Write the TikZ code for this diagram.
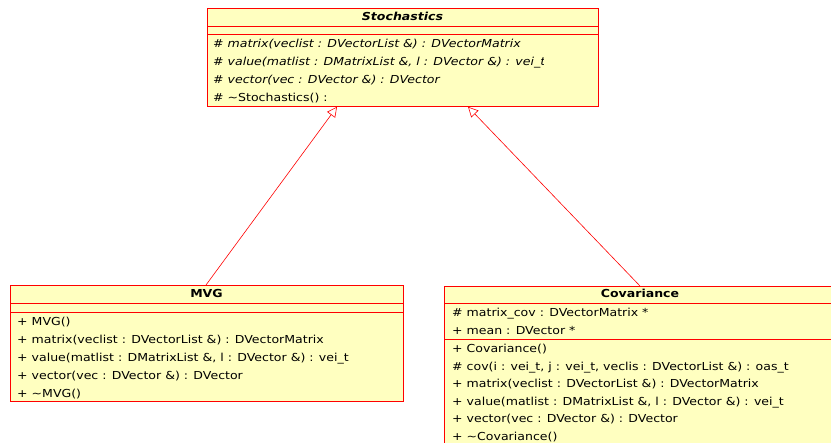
\documentclass[tikz,border=0pt]{standalone}
\usepackage{fontspec}
\setmainfont{DejaVu Sans}
\newfontfamily\umlfont[FakeStretch=1.14]{DejaVu Sans}
\usetikzlibrary{arrows.meta}
\definecolor{umlfill}{HTML}{FFFFC0}
\definecolor{umlline}{HTML}{FF0000}
\tikzset{
  classbox/.style={draw=umlline, fill=umlfill, line width=0.8pt, rectangle,
    inner sep=0pt, anchor=north west},
  sepline/.style={draw=umlline, line width=0.8pt},
  member/.style={anchor=base west, inner sep=0pt, font=\umlfont\fontsize{11}{13}\selectfont},
  absmember/.style={member, font=\umlfont\fontsize{11}{13}\selectfont\itshape},
  title/.style={anchor=base, inner sep=0pt, font=\umlfont\fontsize{11}{13}\selectfont\bfseries},
  realize/.style={draw=umlline, line width=0.6pt,
    -{Triangle[open, length=10pt, width=10pt]}},
}
\begin{document}
\begin{tikzpicture}[x=1pt, y=-1pt]
\clip (0,0) rectangle (831,443);
\fill[white] (0,0) rectangle (831,443);

% Stochastics (abstract)
\node[classbox, minimum width=391pt, minimum height=98pt] (stoch) at (207,8) {};
\draw[sepline] (207,26) -- (598,26);
\draw[sepline] (207,34) -- (598,34);
\node[title, font=\umlfont\fontsize{11}{13}\selectfont\bfseries\itshape] (stochT) at (402.5,21) {Stochastics};
\begin{scope}
  \clip (207,36) rectangle (521,52);
  \node[absmember] (s1) at (213,48) {\# matrix(veclist : DVectorList \&) : DVectorMatrix};
\end{scope}
\begin{scope}
  \clip (207,54) rectangle (543,70);
  \node[absmember] (s2) at (213,66) {\# value(matlist : DMatrixList \&, l : DVector \&) : vei\_t};
\end{scope}
\begin{scope}
  \clip (207,72) rectangle (442,88);
  \node[absmember] (s3) at (213,84) {\# vector(vec : DVector \&) : DVector};
\end{scope}
\node[member] (s4) at (213,102) {\# \textasciitilde Stochastics() :};

% MVG
\node[classbox, minimum width=393pt, minimum height=116pt] (mvg) at (10,285) {};
\draw[sepline] (10,303) -- (403,303);
\draw[sepline] (10,312) -- (403,312);
\node[title] (mvgT) at (206.5,298) {MVG};
\node[member] (m1) at (17,326) {+ MVG()};
\node[member] (m2) at (17,344) {+ matrix(veclist : DVectorList \&) : DVectorMatrix};
\node[member] (m3) at (17,362) {+ value(matlist : DMatrixList \&, l : DVector \&) : vei\_t};
\node[member] (m4) at (17,380) {+ vector(vec : DVector \&) : DVector};
\node[member] (m5) at (17,398) {+ \textasciitilde MVG()};

% Covariance (box runs on past the lower right corner)
\node[classbox, minimum width=392pt, minimum height=170pt] (cov) at (444,286) {};
\draw[sepline] (444,303) -- (836,303);
\draw[sepline] (444,339) -- (836,339);
\node[title] (covT) at (640,298) {Covariance};
\node[member] (c1) at (452,317) {\# matrix\_cov : DVectorMatrix *};
\node[member] (c2) at (452,335) {+ mean : DVector *};
\node[member] (c3) at (452,353) {+ Covariance()};
\node[member] (c4) at (452,371) {\# cov(i : vei\_t, j : vei\_t, veclis : DVectorList \&) : oas\_t};
\node[member] (c5) at (452,388) {+ matrix(veclist : DVectorList \&) : DVectorMatrix};
\node[member] (c6) at (452,406) {+ value(matlist : DMatrixList \&, l : DVector \&) : vei\_t};
\node[member] (c7) at (452,423) {+ vector(vec : DVector \&) : DVector};
\node[member] (c8) at (452,441) {+ \textasciitilde Covariance()};

% Realization arrows
\path (mvg.north west) ++(196,0) coordinate (mvgTop);
\path (stoch.south west) ++(130,0) coordinate (stochL);
\path (cov.north west) ++(196,0) coordinate (covTop);
\path (stoch.south west) ++(261,0) coordinate (stochR);
\draw[realize] (mvgTop) -- (stochL);
\draw[realize] (covTop) -- (stochR);
\end{tikzpicture}
\end{document}
